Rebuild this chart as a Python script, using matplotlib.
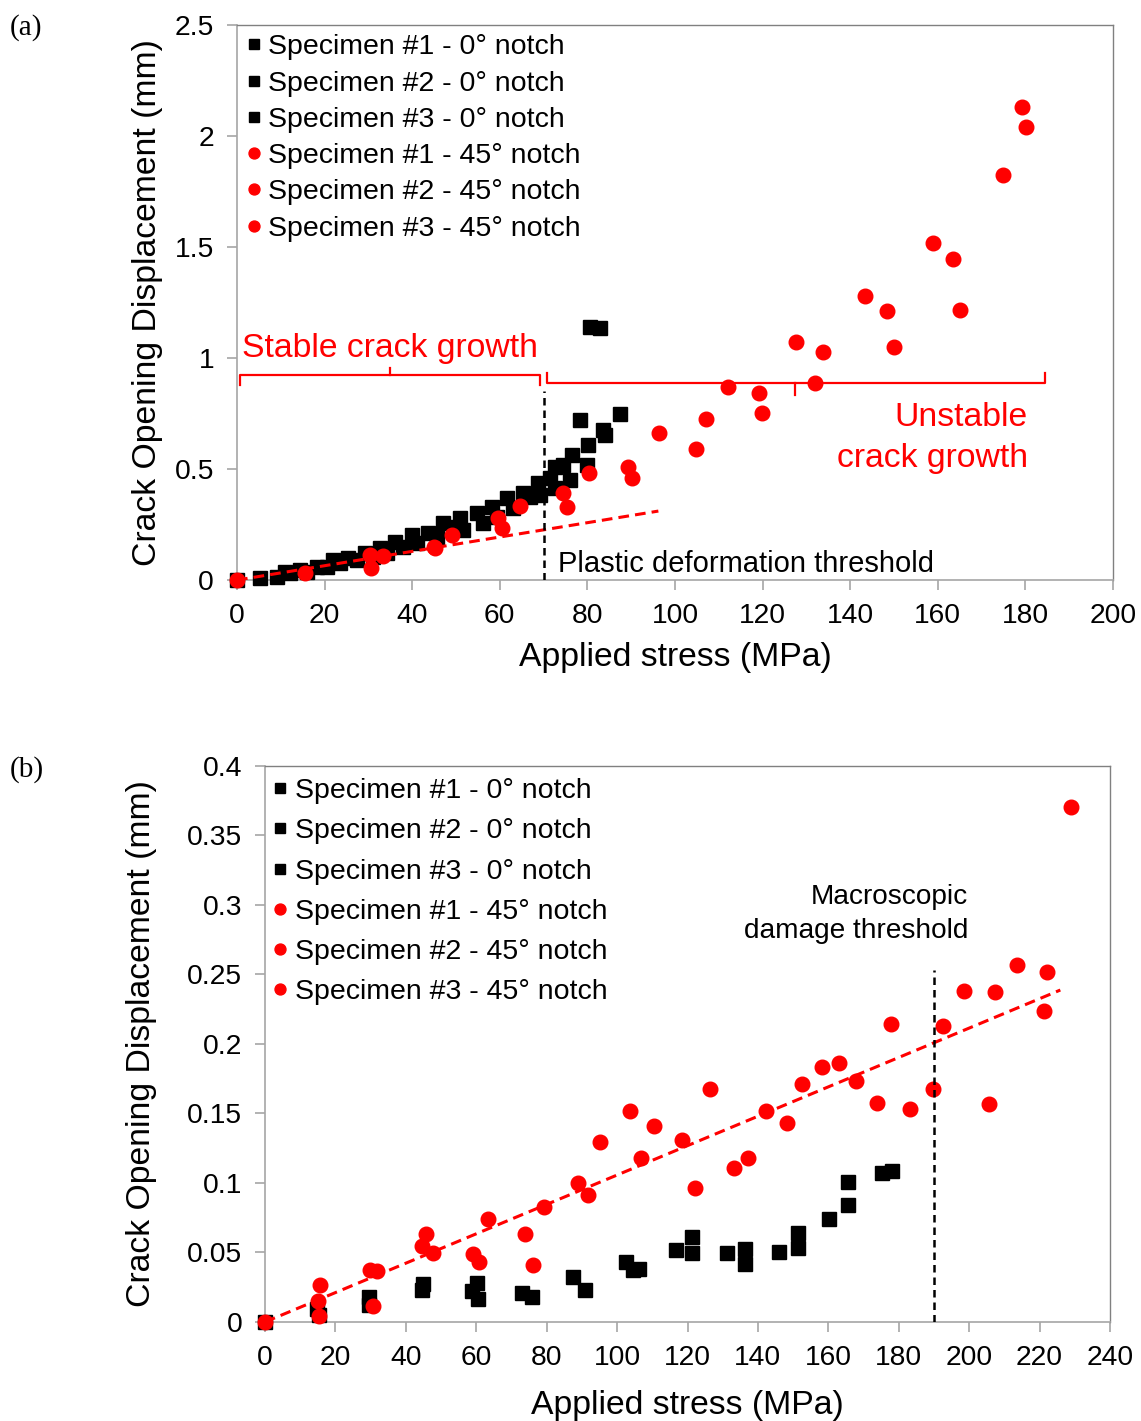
import matplotlib
matplotlib.use('Agg')
import matplotlib.pyplot as plt
from matplotlib.ticker import FuncFormatter

plt.rcParams['font.family'] = ['Liberation Sans', 'DejaVu Sans']

# ---------------- panel (a) data ----------------
a_sq1_x = [0, 5.25, 12.1, 15.9, 20.5, 23.5, 27.3, 31.1, 34.2, 38, 41, 45.6, 51.7, 56.2, 59.3, 63.1, 66.9, 69.2, 72.6, 76, 79.8, 84]
a_sq1_y = [0, 0.008, 0.03, 0.037, 0.06, 0.075, 0.09, 0.105, 0.12, 0.15, 0.165, 0.195, 0.225, 0.255, 0.285, 0.323, 0.375, 0.383, 0.413, 0.45, 0.518, 0.653]
a_sq2_x = [9.06, 14.4, 18.2, 22, 25.4, 29.2, 32.6, 36.1, 39.9, 43.7, 47.1, 50.9, 54.7, 58.2, 61.6, 65.4, 68.8, 71.5, 74.5, 76.4, 80.2, 83.6, 87.4]
a_sq2_y = [0.015, 0.045, 0.06, 0.09, 0.098, 0.12, 0.143, 0.173, 0.203, 0.21, 0.255, 0.278, 0.30, 0.33, 0.368, 0.39, 0.435, 0.458, 0.518, 0.563, 0.608, 0.675, 0.75]
a_sq3_x = [11, 50.2, 72.6, 78.3, 80.6, 82.9]
a_sq3_y = [0.037, 0.24, 0.51, 0.72, 1.141, 1.134]

a_ci1_x = [0, 15.5, 30.4, 45.2, 60.4, 75.3, 90.2, 104.9, 119.9, 133.8, 149.9, 165, 180.1]
a_ci1_y = [0, 0.033, 0.113, 0.143, 0.233, 0.33, 0.458, 0.589, 0.751, 1.029, 1.051, 1.216, 2.042]
a_ci2_x = [30.7, 45, 59.7, 74.5, 89.3, 107.1, 119.1, 132, 148.5, 163.5, 179.2]
a_ci2_y = [0.053, 0.15, 0.278, 0.393, 0.51, 0.724, 0.841, 0.886, 1.213, 1.444, 2.132]
a_ci3_x = [33.4, 49, 64.6, 80.3, 96.3, 112, 127.7, 143.4, 159, 174.9]
a_ci3_y = [0.108, 0.203, 0.333, 0.48, 0.661, 0.868, 1.074, 1.279, 1.517, 1.824]

a_fit_x = [0, 96.2]
a_fit_slope = 0.00323
a_threshold = 70

# ---------------- panel (b) data ----------------
b_sq1_x = [0, 14.7, 29.4, 45, 60.1, 75.8, 90.9, 106.1, 121.2, 136.2, 151.3, 165.7]
b_sq1_y = [0, 0.009, 0.018, 0.027, 0.028, 0.018, 0.023, 0.0379, 0.0614, 0.0525, 0.0638, 0.1005]
b_sq2_x = [15.2, 29.4, 44.5, 60.4, 72.9, 87.6, 104.6, 121.2, 136.2, 151.3, 165.7, 178]
b_sq2_y = [0.005, 0.012, 0.023, 0.0165, 0.0206, 0.032, 0.0374, 0.0499, 0.0417, 0.053, 0.0842, 0.1086]
b_sq3_x = [58.7, 102.6, 116.8, 131.2, 145.9, 160.3, 175.2]
b_sq3_y = [0.022, 0.0434, 0.0518, 0.0499, 0.0506, 0.074, 0.107]

b_ci1_x = [0, 14.9, 29.8, 44.5, 59.2, 73.9, 89, 103.7, 118.4, 133.3, 148.2, 163, 177.7, 192.7, 207.4, 222.1]
b_ci1_y = [0, 0.0153, 0.0374, 0.0549, 0.0489, 0.0631, 0.0998, 0.1518, 0.1307, 0.111, 0.143, 0.1866, 0.2144, 0.213, 0.2374, 0.2516]
b_ci2_x = [15.2, 30.6, 45.7, 60.9, 76.2, 91.6, 106.8, 122.2, 137.3, 152.6, 167.9, 183.2, 198.5, 213.7, 229]
b_ci2_y = [0.0045, 0.0118, 0.0633, 0.0434, 0.041, 0.0914, 0.1182, 0.0966, 0.1182, 0.1712, 0.1734, 0.1535, 0.2384, 0.2568, 0.3705]
b_ci3_x = [15.6, 31.7, 47.6, 63.2, 79.1, 95.2, 110.6, 126.4, 142.2, 158.1, 173.8, 189.7, 205.6, 221.4]
b_ci3_y = [0.0266, 0.0369, 0.0499, 0.0739, 0.0825, 0.1297, 0.141, 0.1674, 0.1518, 0.1837, 0.1578, 0.1674, 0.1566, 0.2237]

b_fit_x = [0, 225.9]
b_fit_slope = 0.001057
b_threshold = 190

labels = ['Specimen #1 - 0\u00b0 notch', 'Specimen #2 - 0\u00b0 notch', 'Specimen #3 - 0\u00b0 notch',
          'Specimen #1 - 45\u00b0 notch', 'Specimen #2 - 45\u00b0 notch', 'Specimen #3 - 45\u00b0 notch']

RED = '#ff0000'
AXGRAY = '#a6a6a6'
BOXGRAY = '#808080'


def style_axes(ax):
    for s in ['left', 'bottom']:
        ax.spines[s].set_color(AXGRAY)
        ax.spines[s].set_linewidth(1.2)
    for s in ['top', 'right']:
        ax.spines[s].set_color(BOXGRAY)
        ax.spines[s].set_linewidth(1.0)
    ax.tick_params(direction='out', length=7, width=1.2, color=AXGRAY,
                   labelsize=20.3, pad=9.5, top=False, right=False)
    ax.yaxis.set_major_formatter(FuncFormatter(lambda v, p: '%g' % v))


def scatter_all(ax, sq, ci):
    for i, (x, y) in enumerate(sq):
        ax.plot(x, y, 's', color='black', ms=10, ls='none', label=labels[i], clip_on=False, zorder=3)
    for i, (x, y) in enumerate(ci):
        ax.plot(x, y, 'o', color=RED, ms=10.5, ls='none', label=labels[3 + i], clip_on=False, zorder=4)


fig = plt.figure(figsize=(11.41, 14.21), dpi=100)

# ================= (a) =================
ax1 = fig.add_axes([0.2077, 0.5918, 0.7678, 0.3906])
scatter_all(ax1,
            [(a_sq1_x, a_sq1_y), (a_sq2_x, a_sq2_y), (a_sq3_x, a_sq3_y)],
            [(a_ci1_x, a_ci1_y), (a_ci2_x, a_ci2_y), (a_ci3_x, a_ci3_y)])
ax1.plot(a_fit_x, [a_fit_slope * v for v in a_fit_x], '--', color=RED, lw=2.2, dashes=(3.5, 2), zorder=5)
ax1.plot([a_threshold, a_threshold], [0, 0.85], '--', color='black', lw=1.8, dashes=(3, 2), zorder=5)
ax1.set_xlim(0, 200)
ax1.set_ylim(0, 2.5)
ax1.set_xticks(range(0, 201, 20))
ax1.set_yticks([0, 0.5, 1, 1.5, 2, 2.5])
style_axes(ax1)
ax1.set_xlabel('Applied stress (MPa)', fontsize=24.3)
ax1.set_ylabel('Crack Opening Displacement (mm)', fontsize=24.3)
ax1.xaxis.set_label_coords(0.5, -0.14)
ax1.xaxis.label.set_va('center')
ax1.yaxis.set_label_coords(-0.102, 0.5)
ax1.yaxis.label.set_va('center')

# braces
bl, br, by, bend, bmid = 0.6, 69.2, 0.923, 0.878, 0.954
ax1.plot([bl, bl, br, br], [bend, by, by, bend], color=RED, lw=1.6)
ax1.plot([(bl + br) / 2] * 2, [by, bmid], color=RED, lw=1.6)
ul, ur, uy, uend, umid, ux = 70.7, 184.5, 0.886, 0.931, 0.833, 127.5
ax1.plot([ul, ul, ur, ur], [uend, uy, uy, uend], color=RED, lw=1.6)
ax1.plot([ux, ux], [uy, umid], color=RED, lw=1.6)

ax1.text(35, 1.045, 'Stable crack growth', color=RED, fontsize=24.3, ha='center', va='center')
ax1.text(180.5, 0.64, 'Unstable\ncrack growth', color=RED, fontsize=24.3, ha='right', va='center',
         multialignment='right', linespacing=1.45)
ax1.text(73.3, 0.073, 'Plastic deformation threshold', color='black', fontsize=21, ha='left', va='center')

ax1.legend(loc='upper left', bbox_to_anchor=(0.0095, 0.983), frameon=False, fontsize=20.5,
           borderpad=0, borderaxespad=0, handlelength=0.6, handletextpad=0.2,
           labelspacing=0.36, markerscale=0.75)

# ================= (b) =================
ax2 = fig.add_axes([0.2323, 0.0697, 0.7405, 0.3913])
scatter_all(ax2,
            [(b_sq1_x, b_sq1_y), (b_sq2_x, b_sq2_y), (b_sq3_x, b_sq3_y)],
            [(b_ci1_x, b_ci1_y), (b_ci2_x, b_ci2_y), (b_ci3_x, b_ci3_y)])
ax2.plot(b_fit_x, [b_fit_slope * v for v in b_fit_x], '--', color=RED, lw=2.2, dashes=(3.5, 2), zorder=5)
ax2.plot([b_threshold, b_threshold], [0, 0.253], '--', color='black', lw=1.8, dashes=(3, 2), zorder=5)
ax2.set_xlim(0, 240)
ax2.set_ylim(0, 0.4)
ax2.set_xticks(range(0, 241, 20))
ax2.set_yticks([0, 0.05, 0.1, 0.15, 0.2, 0.25, 0.3, 0.35, 0.4])
style_axes(ax2)
ax2.set_xlabel('Applied stress (MPa)', fontsize=24.3)
ax2.set_ylabel('Crack Opening Displacement (mm)', fontsize=24.3)
ax2.xaxis.set_label_coords(0.5, -0.15)
ax2.xaxis.label.set_va('center')
ax2.yaxis.set_label_coords(-0.146, 0.5)
ax2.yaxis.label.set_va('center')

ax2.text(199.7, 0.2935, 'Macroscopic\ndamage threshold', color='black', fontsize=20.2,
         ha='right', va='center', multialignment='right', linespacing=1.4)

ax2.legend(loc='upper left', bbox_to_anchor=(0.0077, 0.978), frameon=False, fontsize=20.5,
           borderpad=0, borderaxespad=0, handlelength=0.6, handletextpad=0.23,
           labelspacing=0.5, markerscale=0.75)

fig.text(10 / 1141, 1 - 28 / 1421, '(a)', fontsize=21, family='Liberation Serif', ha='left', va='center')
fig.text(10 / 1141, 1 - 770 / 1421, '(b)', fontsize=21, family='Liberation Serif', ha='left', va='center')

fig.savefig('out.png', dpi=100)
